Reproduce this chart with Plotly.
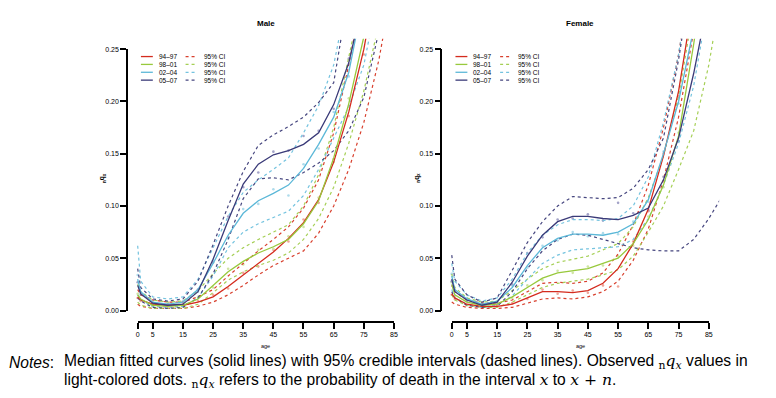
import plotly.graph_objects as go

W, H = 776, 398

ages = [0, 1, 5, 10, 15, 20, 25, 30, 35, 40, 45, 50, 55, 60, 65, 70, 75, 80, 85, 90]
periods = ["94–97", "98–01", "02–04", "05–07"]
ci_label = "95% CI"

# ---------------- Male ----------------
male_med = {
    "94–97": [0.013, 0.010, 0.006, 0.005, 0.005, 0.008, 0.013, 0.023, 0.034, 0.045, 0.056, 0.069, 0.084, 0.106, 0.142, 0.190, 0.250, 0.33, 0.42, 0.52],
    "98–01": [0.015, 0.011, 0.005, 0.004, 0.005, 0.011, 0.024, 0.037, 0.047, 0.055, 0.061, 0.068, 0.083, 0.105, 0.146, 0.198, 0.262, 0.34, 0.43, 0.53],
    "02–04": [0.030, 0.018, 0.008, 0.006, 0.008, 0.020, 0.045, 0.072, 0.093, 0.105, 0.112, 0.120, 0.136, 0.159, 0.185, 0.228, 0.30, 0.38, 0.47, 0.57],
    "05–07": [0.024, 0.016, 0.007, 0.005, 0.006, 0.018, 0.049, 0.086, 0.121, 0.140, 0.149, 0.153, 0.159, 0.170, 0.197, 0.237, 0.30, 0.38, 0.47, 0.57],
}
male_lo = {
    "94–97": [0.006, 0.004, 0.002, 0.002, 0.002, 0.004, 0.008, 0.015, 0.024, 0.034, 0.043, 0.050, 0.057, 0.074, 0.100, 0.135, 0.180, 0.240, 0.31, 0.40],
    "98–01": [0.008, 0.005, 0.002, 0.002, 0.002, 0.006, 0.017, 0.029, 0.037, 0.043, 0.048, 0.055, 0.068, 0.088, 0.118, 0.160, 0.210, 0.275, 0.35, 0.44],
    "02–04": [0.015, 0.010, 0.004, 0.003, 0.004, 0.012, 0.033, 0.060, 0.075, 0.083, 0.089, 0.095, 0.110, 0.135, 0.165, 0.195, 0.235, 0.30, 0.38, 0.47],
    "05–07": [0.012, 0.009, 0.003, 0.002, 0.003, 0.012, 0.035, 0.068, 0.107, 0.126, 0.127, 0.125, 0.132, 0.141, 0.153, 0.172, 0.204, 0.262, 0.33, 0.42],
}
male_hi = {
    "94–97": [0.020, 0.015, 0.010, 0.008, 0.008, 0.013, 0.020, 0.033, 0.045, 0.057, 0.068, 0.080, 0.098, 0.125, 0.170, 0.235, 0.31, 0.39, 0.48, 0.58],
    "98–01": [0.025, 0.018, 0.010, 0.008, 0.009, 0.019, 0.035, 0.050, 0.060, 0.068, 0.075, 0.082, 0.100, 0.130, 0.175, 0.240, 0.31, 0.39, 0.48, 0.58],
    "02–04": [0.062, 0.028, 0.013, 0.011, 0.013, 0.030, 0.060, 0.090, 0.113, 0.125, 0.135, 0.146, 0.170, 0.196, 0.235, 0.30, 0.37, 0.45, 0.54, 0.64],
    "05–07": [0.040, 0.022, 0.011, 0.009, 0.011, 0.028, 0.063, 0.100, 0.133, 0.158, 0.168, 0.176, 0.185, 0.199, 0.218, 0.30, 0.38, 0.46, 0.55, 0.65],
}
male_obs = {
    "94–97": [0.012, 0.009, 0.005, 0.004, 0.006, 0.009, 0.015, 0.021, 0.036, 0.042, 0.058, 0.066, 0.087, 0.103, 0.145, 0.186, 0.245],
    "98–01": [0.016, 0.010, 0.004, 0.005, 0.004, 0.013, 0.022, 0.040, 0.044, 0.058, 0.059, 0.071, 0.080, 0.108, 0.142, 0.203, None],
    "02–04": [0.034, 0.017, 0.009, 0.005, 0.009, 0.018, 0.048, 0.069, 0.097, 0.102, 0.116, 0.110, 0.140, 0.155, 0.190, 0.224, None],
    "05–07": [0.027, 0.015, 0.006, 0.006, 0.005, 0.020, 0.046, 0.090, 0.118, 0.132, 0.152, 0.153, 0.167, 0.172, 0.193, 0.241, None],
}

# ---------------- Female ----------------
female_med = {
    "94–97": [0.016, 0.012, 0.006, 0.004, 0.004, 0.006, 0.012, 0.018, 0.018, 0.017, 0.019, 0.026, 0.040, 0.064, 0.097, 0.148, 0.210, 0.29, 0.38, 0.48],
    "98–01": [0.025, 0.015, 0.008, 0.005, 0.006, 0.013, 0.022, 0.031, 0.036, 0.038, 0.040, 0.045, 0.050, 0.064, 0.087, 0.120, 0.167, 0.255, 0.35, 0.45],
    "02–04": [0.033, 0.020, 0.011, 0.006, 0.009, 0.022, 0.043, 0.060, 0.069, 0.073, 0.073, 0.072, 0.075, 0.083, 0.106, 0.150, 0.200, 0.27, 0.36, 0.46],
    "05–07": [0.030, 0.018, 0.010, 0.005, 0.008, 0.027, 0.052, 0.072, 0.085, 0.090, 0.090, 0.088, 0.087, 0.091, 0.098, 0.125, 0.165, 0.227, 0.30, 0.39],
}
female_lo = {
    "94–97": [0.008, 0.006, 0.003, 0.002, 0.002, 0.003, 0.007, 0.011, 0.012, 0.011, 0.013, 0.018, 0.028, 0.048, 0.078, 0.125, 0.185, 0.26, 0.35, 0.45],
    "98–01": [0.015, 0.010, 0.005, 0.003, 0.003, 0.008, 0.015, 0.022, 0.026, 0.028, 0.030, 0.034, 0.039, 0.052, 0.075, 0.100, 0.135, 0.172, 0.235, 0.32],
    "02–04": [0.020, 0.012, 0.006, 0.003, 0.005, 0.014, 0.030, 0.045, 0.053, 0.058, 0.059, 0.060, 0.061, 0.068, 0.088, 0.120, 0.160, 0.215, 0.29, 0.38],
    "05–07": [0.018, 0.012, 0.005, 0.003, 0.004, 0.018, 0.040, 0.057, 0.068, 0.073, 0.072, 0.068, 0.064, 0.060, 0.058, 0.057, 0.057, 0.068, 0.088, 0.112],
}
female_hi = {
    "94–97": [0.024, 0.018, 0.010, 0.007, 0.007, 0.010, 0.018, 0.026, 0.027, 0.026, 0.028, 0.036, 0.054, 0.082, 0.120, 0.175, 0.245, 0.33, 0.42, 0.52],
    "98–01": [0.035, 0.022, 0.012, 0.008, 0.009, 0.019, 0.030, 0.040, 0.046, 0.049, 0.052, 0.058, 0.064, 0.080, 0.108, 0.148, 0.205, 0.29, 0.38, 0.48],
    "02–04": [0.045, 0.028, 0.015, 0.009, 0.012, 0.030, 0.055, 0.072, 0.082, 0.087, 0.087, 0.086, 0.088, 0.100, 0.128, 0.180, 0.245, 0.33, 0.42, 0.52],
    "05–07": [0.053, 0.030, 0.015, 0.008, 0.012, 0.038, 0.065, 0.085, 0.100, 0.109, 0.108, 0.107, 0.108, 0.117, 0.135, 0.165, 0.240, 0.33, 0.42, 0.52],
}
female_obs = {
    "94–97": [0.015, 0.011, 0.005, 0.004, 0.005, 0.007, 0.011, 0.020, 0.016, 0.019, 0.017, 0.024, 0.023, 0.066, 0.095, 0.150, 0.205],
    "98–01": [0.027, 0.014, 0.009, 0.004, 0.007, 0.012, 0.024, 0.029, 0.038, 0.036, 0.042, 0.043, 0.052, 0.062, 0.090, 0.118, 0.170],
    "02–04": [0.035, 0.019, 0.012, 0.007, 0.008, 0.024, 0.041, 0.062, 0.067, 0.075, 0.071, 0.074, 0.073, 0.085, 0.104, 0.152, 0.198],
    "05–07": [0.028, 0.019, 0.009, 0.006, 0.007, 0.025, 0.055, 0.070, 0.087, 0.088, 0.092, 0.086, 0.103, 0.093, 0.096, 0.128, 0.162],
}

colors = {"94–97": "#D42B1E", "98–01": "#98C93C", "02–04": "#5CB8D8", "05–07": "#3A3A78"}
ci_colors = {"94–97": "#D8402E", "98–01": "#A5CF55", "02–04": "#74C3DF", "05–07": "#46467F"}
dot_colors = {"94–97": "#EFA598", "98–01": "#CFE5A3", "02–04": "#AEDBEB", "05–07": "#A3A3C8"}


def X(px):
    return px / W


def Y(py):
    return 1 - py / H


fig = go.Figure()

panels = [
    ("x", "y", male_med, male_lo, male_hi, male_obs),
    ("x2", "y2", female_med, female_lo, female_hi, female_obs),
]
for xa, ya, med, lo, hi, obs in panels:
    for p in periods:
        fig.add_trace(go.Scatter(x=ages[:len(obs[p])], y=obs[p], mode="markers", xaxis=xa, yaxis=ya,
                                 marker=dict(size=2.6, color=dot_colors[p]), showlegend=False, hoverinfo="skip"))
    for p in periods:
        for band in (lo, hi):
            fig.add_trace(go.Scatter(x=ages, y=band[p], mode="lines", xaxis=xa, yaxis=ya,
                                     line=dict(color=ci_colors[p], width=1.2, dash="3px,3px"),
                                     showlegend=False, hoverinfo="skip"))
    for p in periods:
        fig.add_trace(go.Scatter(x=ages, y=med[p], mode="lines", xaxis=xa, yaxis=ya,
                                 line=dict(color=colors[p], width=1.3), showlegend=False))

# empty traces so the detached R-style tick axes get drawn
fig.add_trace(go.Scatter(x=[None], y=[None], xaxis="x3", yaxis="y3", showlegend=False))
fig.add_trace(go.Scatter(x=[None], y=[None], xaxis="x4", yaxis="y4", showlegend=False))

data_y_dom = [Y(322.6), Y(35.4)]
hidden = dict(showline=False, showgrid=False, zeroline=False, showticklabels=False, ticks="")
xr = [-3.4, 88.4]
yr = [-0.01, 0.26]

tick_font = dict(family="Liberation Sans, Arial", size=7, color="black")
xticks = [0, 5, 15, 25, 35, 45, 55, 65, 75, 85]
yticks = [0, 0.05, 0.10, 0.15, 0.20, 0.25]
axis_style = dict(showline=True, linecolor="black", linewidth=1.5, ticks="outside", ticklen=6,
                  tickwidth=1.5, tickcolor="black", showgrid=False, zeroline=False, tickfont=tick_font)

fig.update_layout(
    width=W, height=H,
    margin=dict(l=0, r=0, t=0, b=0),
    paper_bgcolor="white", plot_bgcolor="rgba(0,0,0,0)",
    xaxis=dict(domain=[X(126.4), X(405.4)], range=xr, anchor="y", **hidden),
    yaxis=dict(domain=data_y_dom, range=yr, anchor="x", **hidden),
    xaxis2=dict(domain=[X(442.9), X(722.7)], range=xr, anchor="y2", **hidden),
    yaxis2=dict(domain=data_y_dom, range=yr, anchor="x2", **hidden),
    xaxis3=dict(domain=[X(136.7), X(395.0)], range=[0, 85], anchor="free", position=Y(324),
                tickvals=xticks, ticktext=[str(v) for v in xticks], **axis_style),
    yaxis3=dict(domain=[Y(312), Y(46)], range=[0, 0.25], anchor="free", position=X(126),
                tickvals=yticks, tickformat=".2f", **axis_style),
    xaxis4=dict(domain=[X(453.3), X(712.3)], range=[0, 85], anchor="free", position=Y(324),
                tickvals=xticks, ticktext=[str(v) for v in xticks], **axis_style),
    yaxis4=dict(domain=[Y(312), Y(46)], range=[0, 0.25], anchor="free", position=X(442.7),
                tickvals=yticks, tickformat=".2f", **axis_style),
)

ann = []
shapes = []
sans = "Liberation Sans, Arial"
ctr = dict(xanchor="center", yanchor="middle", showarrow=False, xref="paper", yref="paper")
# titles, axis labels
for cx, title, ylx in [(266, "Male", 101), (582.8, "Female", 418)]:
    ann.append(dict(x=X(cx), y=Y(20), text="<b>%s</b>" % title,
                    font=dict(family=sans, size=8, color="black"), **ctr))
    ann.append(dict(x=X(cx), y=Y(348), text="age",
                    font=dict(family=sans, size=5.5, color="black"), **ctr))
    ann.append(dict(x=X(ylx), y=Y(177), text="<b><sub>n</sub>q<sub>x</sub></b>",
                    textangle=-90, font=dict(family=sans, size=6.5, color="black"), **ctr))

# legends
lft = dict(xanchor="left", yanchor="middle", showarrow=False, xref="paper", yref="paper")
rows = [53.5, 61.5, 69.5, 77.5]
for base in (0.0, 317.0):
    for i, p in enumerate(periods):
        yy = Y(rows[i])
        shapes.append(dict(type="line", xref="paper", yref="paper", x0=X(140 + base), x1=X(152 + base),
                           y0=yy, y1=yy, line=dict(color=colors[p], width=1.3)))
        shapes.append(dict(type="line", xref="paper", yref="paper", x0=X(185 + base), x1=X(196 + base),
                           y0=yy, y1=yy, line=dict(color=ci_colors[p], width=1.2, dash="3px,3px")))
        ann.append(dict(x=X(156 + base), y=yy, text=p,
                        font=dict(family=sans, size=6.5, color="black"), **lft))
        ann.append(dict(x=X(201.5 + base), y=yy, text=ci_label,
                        font=dict(family=sans, size=6.5, color="black"), **lft))

# notes
serif = "style='font-family:DejaVu Serif'"
nqx = "<span %s><sub>n</sub><i>q<sub>x</sub></i></span>" % serif
note_font = dict(family=sans, size=15.6, color="black")
ann.append(dict(x=X(6.5), y=Y(364.5), text="<i>Notes</i>:", font=note_font, borderpad=0, **lft))
ann.append(dict(x=X(61.5), y=Y(364.5),
                text="Median fitted curves (solid lines) with 95% credible intervals (dashed lines). Observed " + nqx + " values in",
                font=note_font, borderpad=0, **lft))
ann.append(dict(x=X(61.5), y=Y(383.5),
                text="light-colored dots. " + nqx + " refers to the probability of death in the interval "
                     "<span %s><i>x</i></span> to <span %s><i>x</i> + <i>n</i></span>." % (serif, serif),
                font=note_font, borderpad=0, **lft))

fig.update_layout(annotations=ann, shapes=shapes)
fig.write_html("out.html", config={"displayModeBar": False},
               post_script="document.body.style.margin='0';document.body.style.overflow='hidden';")
